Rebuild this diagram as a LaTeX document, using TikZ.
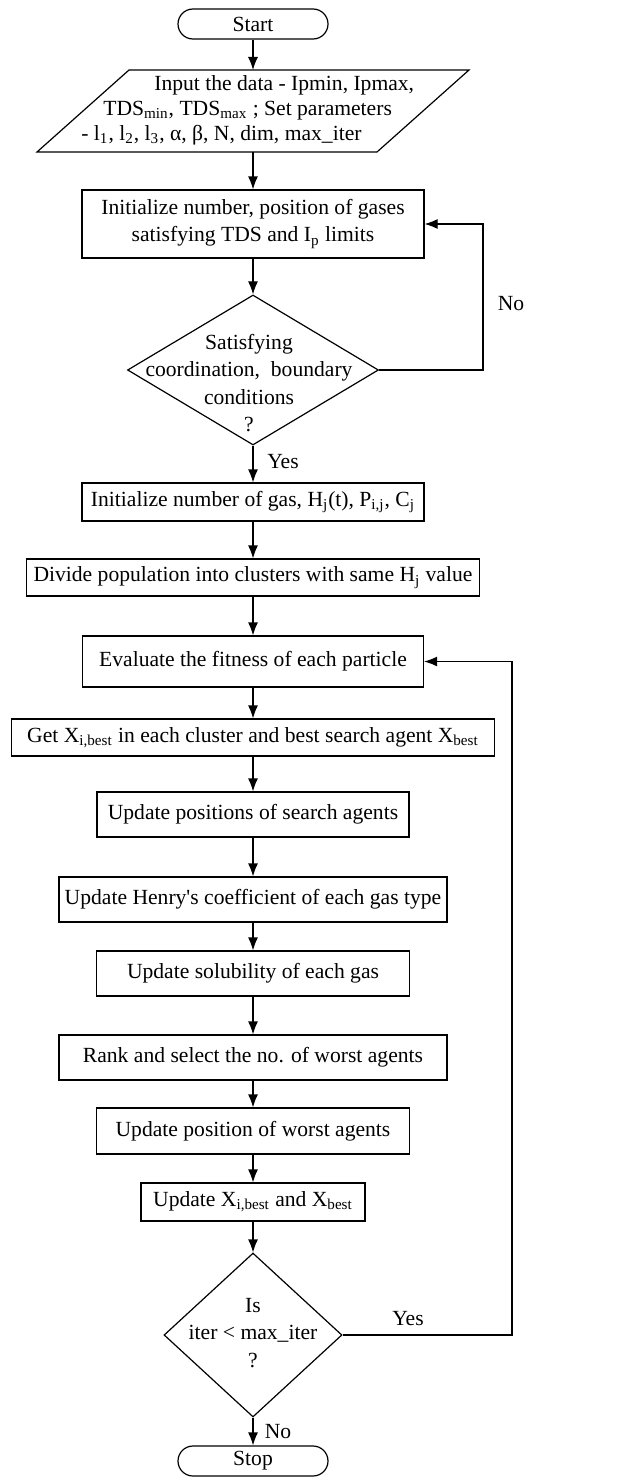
\documentclass[tikz,border=0pt]{standalone}
\usepackage{fontspec}
\setmainfont{Liberation Serif}
\usetikzlibrary{shapes.geometric,arrows.meta}

\begin{document}
\begin{tikzpicture}[x=0.5pt,y=-0.5pt,
  every node/.style={font=\fontsize{10.8}{13.5}\selectfont, text=black},
  box/.style={draw, line width=0.6pt, inner sep=0pt, align=center},
  term/.style={box, rounded corners=7.5pt},
  decision/.style={diamond, draw, line width=0.6pt, inner sep=0pt},
  flow/.style={-{Latex[length=6.5pt,width=5pt]}, line width=0.6pt},
  outline/.style={line width=0.6pt},
  lbl/.style={inner sep=0pt}]
\useasboundingbox (0,0) rectangle (622,1477);

% terminals, boxes and decisions along the main axis
\node[term, minimum width=75pt, minimum height=15pt] (start) at (253,24) {Start};

% input parallelogram
\coordinate (pTL) at (129,70);
\coordinate (pTR) at (469,70);
\coordinate (pBR) at (377,152);
\coordinate (pBL) at (37,152);
\coordinate (pTop) at (253,70);
\coordinate (pBot) at (253,152);
\draw[outline] (pTL) -- (pTR) -- (pBR) -- (pBL) -- cycle;
\node[lbl, align=left, anchor=west, font=\fontsize{10.8}{12.5}\selectfont] (input) at (81,110)
  {\hspace*{36.5pt}Input the data - Ipmin, Ipmax,\\
   \hspace*{11pt}TDS\textsubscript{min}, TDS\textsubscript{max} ; Set parameters\\
   - l\textsubscript{1}, l\textsubscript{2}, l\textsubscript{3}, α, β, N, dim, max\_iter};

\node[box, minimum width=171pt, minimum height=34pt] (init) at (253,224)
  {Initialize number, position of gases\\satisfying TDS and I\textsubscript{p} limits};

\node[decision, minimum width=125.5pt, minimum height=75pt] (cond) at (253,370) {};
\node[lbl, align=center, font=\fontsize{10.8}{13.7}\selectfont] (condtxt) at (249,383)
  {Satisfying\\coordination,\ \ boundary\\conditions\\?};

\node[box, minimum width=171pt, minimum height=19pt] (gasinit) at (253,502)
  {Initialize number of gas, H\textsubscript{j}(t), P\textsubscript{i,j}, C\textsubscript{j}};
\node[box, minimum width=226.5pt, minimum height=18.5pt] (divide) at (253,577.5)
  {Divide population into clusters with same H\textsubscript{j} value};
\node[box, minimum width=170.5pt, minimum height=25.5pt] (eval) at (253,661.5)
  {Evaluate the fitness of each particle};
\node[box, minimum width=241.5pt, minimum height=18.5pt] (getx) at (253,737.5)
  {Get X\textsubscript{i,best} in each cluster and best search agent X\textsubscript{best}};
\node[box, minimum width=156pt, minimum height=22.5pt] (updpos) at (253,814.5)
  {Update positions of search agents};
\node[box, minimum width=194pt, minimum height=22.5pt] (henry) at (253,899.5)
  {Update Henry\textquotesingle s coefficient of each gas type};
\node[box, minimum width=156.5pt, minimum height=22.5pt] (solub) at (253,973.5)
  {Update solubility of each gas};
\node[box, minimum width=194pt, minimum height=22.5pt] (rank) at (253,1057.5)
  {Rank and select the no. of worst agents};
\node[box, minimum width=156.5pt, minimum height=23pt] (worst) at (253,1131)
  {Update position of worst agents};
\node[box, minimum width=112pt, minimum height=19pt] (updx) at (253,1202)
  {Update X\textsubscript{i,best} and X\textsubscript{best}};

\node[decision, minimum width=89pt, minimum height=82pt] (iter) at (253,1335) {};
\node[lbl, align=center, font=\fontsize{10.8}{13.7}\selectfont] (itertxt) at (253,1333)
  {Is\\iter < max\_iter\\?};

\node[term, minimum width=75pt, minimum height=15pt] (stop) at (253,1461) {Stop};

% main flow
\draw[flow] (start) -- (pTop);
\draw[flow] (pBot) -- (init);
\draw[flow] (init) -- (cond);
\draw[flow] (cond) -- (gasinit);
\draw[flow] (gasinit) -- (divide);
\draw[flow] (divide) -- (eval);
\draw[flow] (eval) -- (getx);
\draw[flow] (getx) -- (updpos);
\draw[flow] (updpos) -- (henry);
\draw[flow] (henry) -- (solub);
\draw[flow] (solub) -- (rank);
\draw[flow] (rank) -- (worst);
\draw[flow] (worst) -- (updx);
\draw[flow] (updx) -- (iter);
\draw[flow] (iter) -- (stop);

% loop-backs
\coordinate (noturn) at (483,370);
\draw[flow] (cond.east) -- (noturn) |- (init.east);
\coordinate (yesturn) at (512,1335);
\draw[flow] (iter.east) -- (yesturn) |- (eval.east);

% branch labels
\node[lbl] (yes1) at (283,462) {Yes};
\node[lbl] (no1) at (511,304) {No};
\node[lbl] (yes2) at (408,1319) {Yes};
\node[lbl] (no2) at (278,1432) {No};
\end{tikzpicture}
\end{document}
